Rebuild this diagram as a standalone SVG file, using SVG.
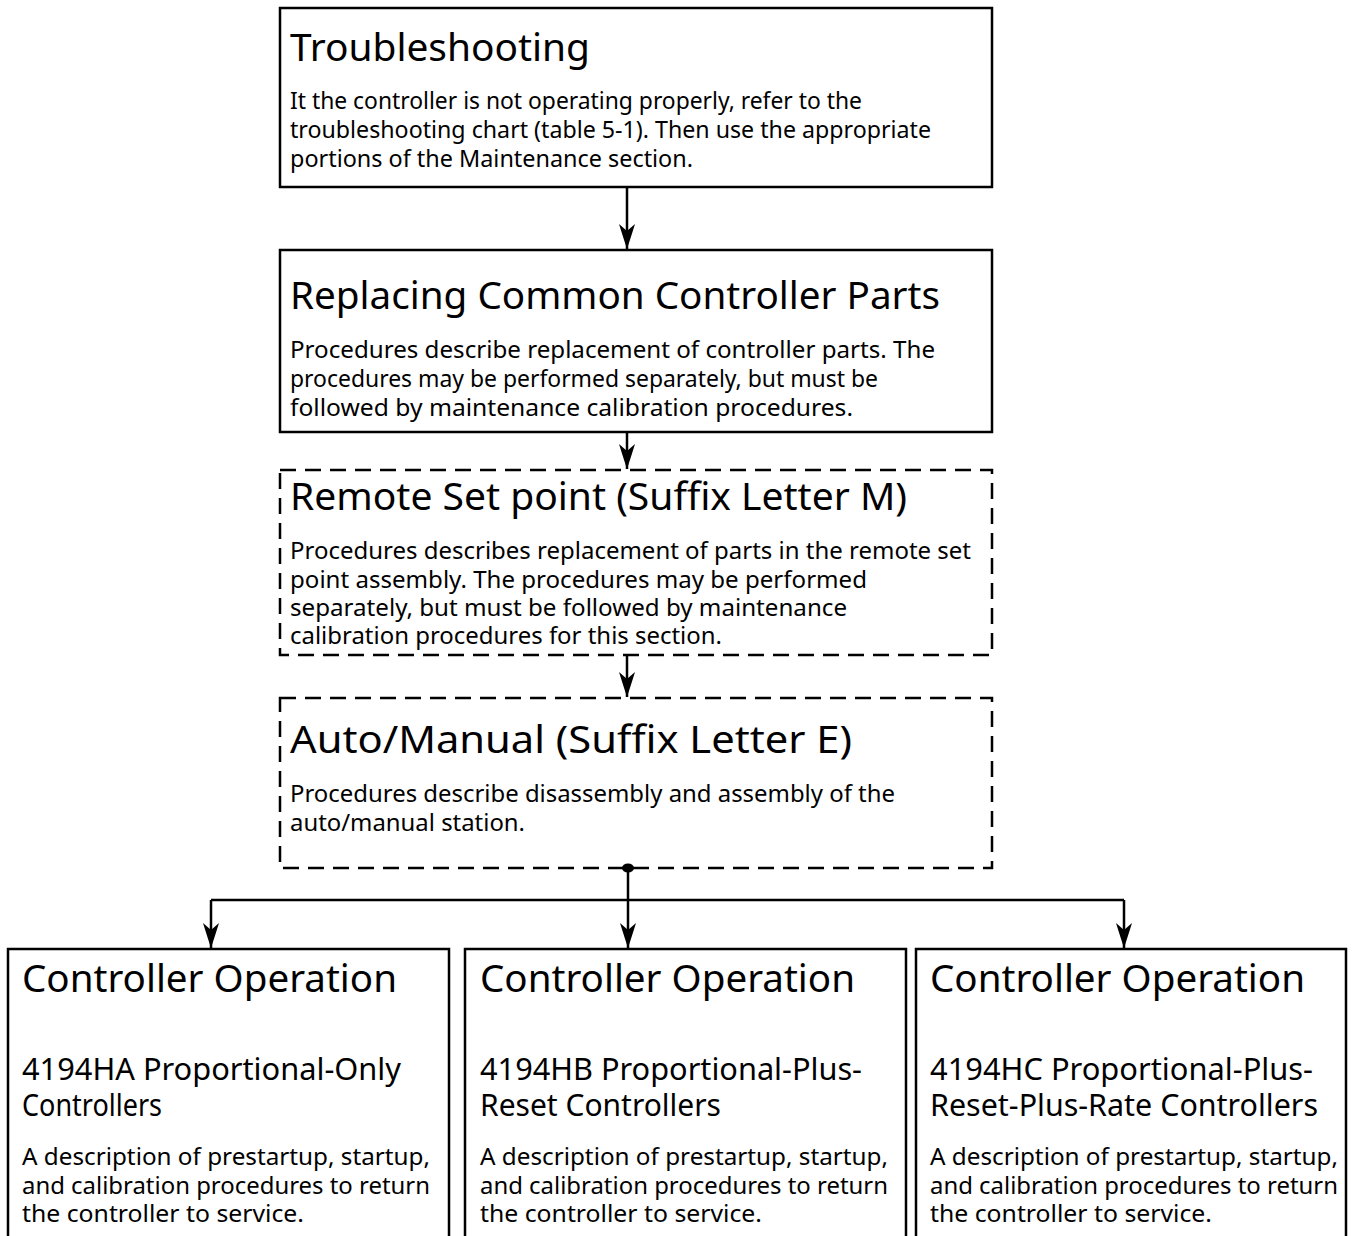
<svg xmlns="http://www.w3.org/2000/svg" width="1353" height="1236" viewBox="0 0 1353 1236">
<style>
.box{fill:#fff;stroke:#000;stroke-width:2.5}
.dash{stroke-dasharray:16 9}
.t{font-family:"Noto Sans","Open Sans",sans-serif;fill:#000}
.h{font-size:38px}
.s{font-size:30px}
.b{font-size:24px}
.c{stroke:#000;stroke-width:2.5;fill:none}
</style>
<defs>
<marker id="ar" markerUnits="userSpaceOnUse" markerWidth="30" markerHeight="20" viewBox="-26 -10 28 20" refX="0" refY="0" orient="auto">
<path d="M0,0 Q-9,-3 -25,-8 L-18,0 L-25,8 Q-9,3 0,0 Z" fill="#000"/>
</marker>
</defs>
<rect width="1353" height="1236" fill="#fff"/>
<g id="troubleshooting">
<rect class="box" x="280" y="8" width="712" height="179"/>
<text class="t h" x="290" y="61" textLength="300" lengthAdjust="spacingAndGlyphs">Troubleshooting</text>
<text class="t b" x="290" y="109" textLength="572" lengthAdjust="spacingAndGlyphs">It the controller is not operating properly, refer to the</text>
<text class="t b" x="290" y="138" textLength="641" lengthAdjust="spacingAndGlyphs">troubleshooting chart (table 5-1). Then use the appropriate</text>
<text class="t b" x="290" y="167" textLength="403" lengthAdjust="spacingAndGlyphs">portions of the Maintenance section.</text>
</g>
<g id="replacing">
<rect class="box" x="280" y="250" width="712" height="182"/>
<text class="t h" x="290" y="309" textLength="650" lengthAdjust="spacingAndGlyphs">Replacing Common Controller Parts</text>
<text class="t b" x="290" y="358" textLength="645" lengthAdjust="spacingAndGlyphs">Procedures describe replacement of controller parts. The</text>
<text class="t b" x="290" y="387" textLength="588" lengthAdjust="spacingAndGlyphs">procedures may be performed separately, but must be</text>
<text class="t b" x="290" y="416" textLength="563" lengthAdjust="spacingAndGlyphs">followed by maintenance calibration procedures.</text>
</g>
<g id="remote">
<rect class="box dash" x="280" y="470" width="712" height="185"/>
<text class="t h" x="290" y="510" textLength="617" lengthAdjust="spacingAndGlyphs">Remote Set point (Suffix Letter M)</text>
<text class="t b" x="290" y="559" textLength="681" lengthAdjust="spacingAndGlyphs">Procedures describes replacement of parts in the remote set</text>
<text class="t b" x="290" y="588" textLength="577" lengthAdjust="spacingAndGlyphs">point assembly. The procedures may be performed</text>
<text class="t b" x="290" y="616" textLength="557" lengthAdjust="spacingAndGlyphs">separately, but must be followed by maintenance</text>
<text class="t b" x="290" y="644" textLength="432" lengthAdjust="spacingAndGlyphs">calibration procedures for this section.</text>
</g>
<g id="automanual">
<rect class="box dash" x="280" y="698" width="712" height="170"/>
<text class="t h" x="290" y="753" textLength="562" lengthAdjust="spacingAndGlyphs">Auto/Manual (Suffix Letter E)</text>
<text class="t b" x="290" y="802" textLength="605" lengthAdjust="spacingAndGlyphs">Procedures describe disassembly and assembly of the</text>
<text class="t b" x="290" y="831" textLength="235" lengthAdjust="spacingAndGlyphs">auto/manual station.</text>
</g>
<g id="op-ha">
<rect class="box" x="8" y="949" width="441" height="300"/>
<text class="t h" x="22" y="992" textLength="375" lengthAdjust="spacingAndGlyphs">Controller Operation</text>
<text class="t s" x="22" y="1080" textLength="379" lengthAdjust="spacingAndGlyphs">4194HA Proportional-Only</text>
<text class="t s" x="22" y="1116" textLength="140" lengthAdjust="spacingAndGlyphs">Controllers</text>
<text class="t b" x="22" y="1165" textLength="408" lengthAdjust="spacingAndGlyphs">A description of prestartup, startup,</text>
<text class="t b" x="22" y="1194" textLength="408" lengthAdjust="spacingAndGlyphs">and calibration procedures to return</text>
<text class="t b" x="22" y="1222" textLength="282" lengthAdjust="spacingAndGlyphs">the controller to service.</text>
</g>
<g id="op-hb">
<rect class="box" x="465" y="949" width="441" height="300"/>
<text class="t h" x="480" y="992" textLength="375" lengthAdjust="spacingAndGlyphs">Controller Operation</text>
<text class="t s" x="480" y="1080" textLength="382" lengthAdjust="spacingAndGlyphs">4194HB Proportional-Plus-</text>
<text class="t s" x="480" y="1116" textLength="241" lengthAdjust="spacingAndGlyphs">Reset Controllers</text>
<text class="t b" x="480" y="1165" textLength="408" lengthAdjust="spacingAndGlyphs">A description of prestartup, startup,</text>
<text class="t b" x="480" y="1194" textLength="408" lengthAdjust="spacingAndGlyphs">and calibration procedures to return</text>
<text class="t b" x="480" y="1222" textLength="282" lengthAdjust="spacingAndGlyphs">the controller to service.</text>
</g>
<g id="op-hc">
<rect class="box" x="916" y="949" width="430" height="300"/>
<text class="t h" x="930" y="992" textLength="375" lengthAdjust="spacingAndGlyphs">Controller Operation</text>
<text class="t s" x="930" y="1080" textLength="383" lengthAdjust="spacingAndGlyphs">4194HC Proportional-Plus-</text>
<text class="t s" x="930" y="1116" textLength="388" lengthAdjust="spacingAndGlyphs">Reset-Plus-Rate Controllers</text>
<text class="t b" x="930" y="1165" textLength="408" lengthAdjust="spacingAndGlyphs">A description of prestartup, startup,</text>
<text class="t b" x="930" y="1194" textLength="408" lengthAdjust="spacingAndGlyphs">and calibration procedures to return</text>
<text class="t b" x="930" y="1222" textLength="282" lengthAdjust="spacingAndGlyphs">the controller to service.</text>
</g>
<g id="connectors">
<line class="c" x1="627" y1="187" x2="627" y2="249" marker-end="url(#ar)"/>
<line class="c" x1="627" y1="432" x2="627" y2="469" marker-end="url(#ar)"/>
<line class="c" x1="627" y1="655" x2="627" y2="697" marker-end="url(#ar)"/>
<line class="c" x1="628" y1="868" x2="628" y2="948" marker-end="url(#ar)"/>
<polyline class="c" points="211,900 1124,900"/>
<line class="c" x1="211" y1="900" x2="211" y2="948" marker-end="url(#ar)"/>
<line class="c" x1="1124" y1="900" x2="1124" y2="948" marker-end="url(#ar)"/>
<ellipse cx="628" cy="868" rx="6" ry="4.5" fill="#000"/>
</g>
</svg>
